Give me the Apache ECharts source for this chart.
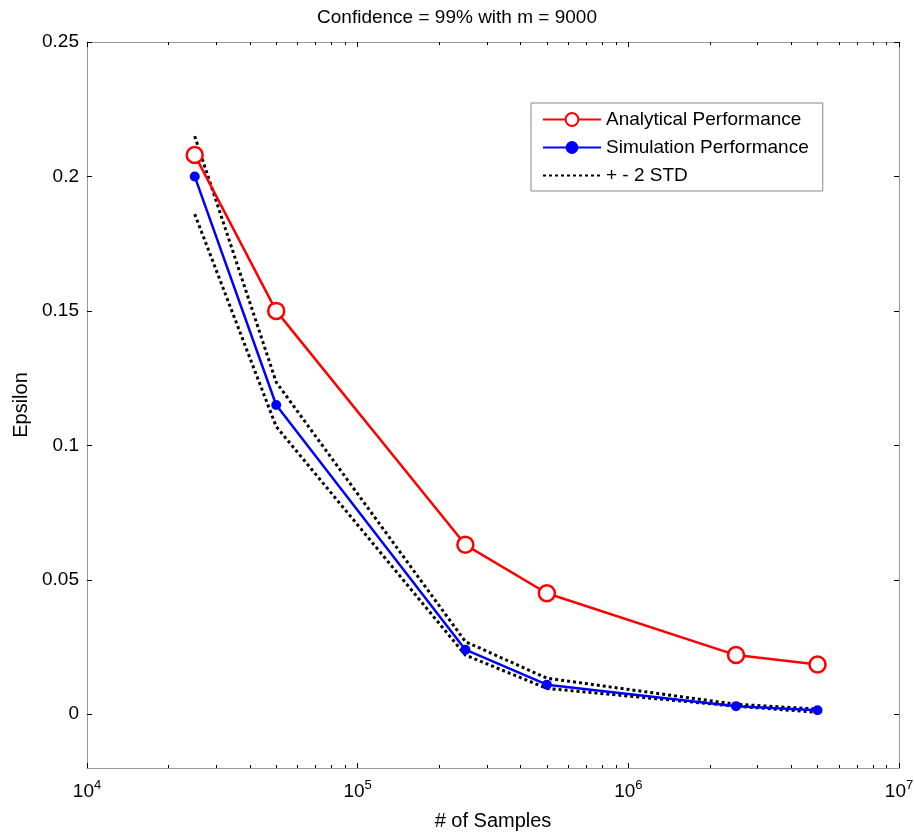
<!DOCTYPE html>
<html><head><meta charset="utf-8">
<script src="https://cdn.jsdelivr.net/npm/echarts@6/dist/echarts.min.js"></script>
<style>html,body{margin:0;padding:0;background:#fff}#c{width:914px;height:836px}</style>
</head><body><div id="c"></div>
<script>
const samples = [25000, 50000, 250000, 500000, 2500000, 5000000];
const analytical = [0.208, 0.150, 0.063, 0.045, 0.022, 0.0185];
const simulation = [0.200, 0.115, 0.024, 0.011, 0.003, 0.0015];
const upperStd = [0.215, 0.1235, 0.027, 0.0134, 0.0037, 0.0019];
const lowerStd = [0.186, 0.107, 0.022, 0.0096, 0.003, 0.0007];
const xTicks = [10000, 100000, 1000000, 10000000];
const yTicks = [0, 0.05, 0.1, 0.15, 0.2, 0.25];

const pair = arr => samples.map((s, i) => [s, arr[i]]);
const font = 'Liberation Sans, Arial, sans-serif';
const chart = echarts.init(document.getElementById('c'), null, {renderer: 'canvas'});
const axisLine = {show: true, onZero: false, lineStyle: {color: '#999', width: 1}};
const tickStyle = {show: true, inside: true, length: 5, lineStyle: {color: '#000'}};
const minor = {show: true, splitNumber: 9, length: 3, lineStyle: {color: '#000'}};
chart.setOption({
  animation: false,
  backgroundColor: '#fff',
  title: {text: 'Confidence = 99% with m = 9000', left: 'center', top: 3,
    textStyle: {fontFamily: font, fontSize: 19, fontWeight: 'normal', color: '#000'}},
  grid: {left: 87, right: 15, top: 42, bottom: 68, outerBoundsMode: 'none', containLabel: false},
  legend: {
    orient: 'vertical', left: 531, top: 103, padding: [7, 14, 6, 11],
    borderColor: '#888', borderWidth: 1, itemWidth: 58, itemHeight: 16, itemGap: 9,
    textStyle: {fontFamily: font, fontSize: 19, color: '#000'},
    data: ['Analytical Performance', 'Simulation Performance',
      {name: '+ - 2 STD', itemStyle: {opacity: 0}}]
  },
  xAxis: [{
    type: 'log', logBase: 10, min: 10000, max: 10000000,
    name: '# of Samples', nameLocation: 'middle', nameGap: 43,
    nameTextStyle: {fontFamily: font, fontSize: 20, color: '#000'},
    axisLine: axisLine, axisTick: tickStyle, minorTick: minor,
    splitLine: {show: false},
    axisLabel: {fontFamily: font, fontSize: 19, color: '#000', margin: 11,
      formatter: v => xTicks.includes(v) ? '10{s|' + Math.round(Math.log10(v)) + '}' : '',
      rich: {s: {fontSize: 13, verticalAlign: 'top', padding: [0, 0, 12, 0], fontFamily: font, color: '#000'}}}
  }, {
    type: 'log', logBase: 10, min: 10000, max: 10000000, position: 'top',
    axisLine: axisLine, axisTick: tickStyle, minorTick: minor,
    axisLabel: {show: false}, splitLine: {show: false}
  }],
  yAxis: [{
    type: 'value', min: -0.02, max: 0.25, interval: 0.01,
    name: 'Epsilon', nameLocation: 'middle', nameGap: 46, nameRotate: 90,
    nameTextStyle: {fontFamily: font, fontSize: 20, color: '#000'},
    axisLine: axisLine, splitLine: {show: false},
    axisLabel: {fontFamily: font, fontSize: 19, color: '#000', margin: 8,
      customValues: yTicks, formatter: v => String(+v.toFixed(2))},
    axisTick: Object.assign({}, tickStyle, {customValues: yTicks})
  }, {
    type: 'value', min: -0.02, max: 0.25, interval: 0.01, position: 'right',
    axisLine: axisLine, axisTick: Object.assign({}, tickStyle, {customValues: yTicks}),
    axisLabel: {show: false, customValues: yTicks}, splitLine: {show: false}
  }],
  series: [
    {name: 'Analytical Performance', type: 'line', data: pair(analytical),
      symbol: 'circle', symbolSize: 16, showAllSymbol: true,
      lineStyle: {color: '#ff0000', width: 2.5},
      itemStyle: {color: '#fff', borderColor: '#ff0000', borderWidth: 2.5}, z: 3},
    {name: 'Simulation Performance', type: 'line', data: pair(simulation),
      symbol: 'circle', symbolSize: 10,
      lineStyle: {color: '#0000ff', width: 2.5},
      itemStyle: {color: '#0000ff'}, z: 4},
    {name: '+ - 2 STD', type: 'line', data: pair(upperStd), symbol: 'none',
      lineStyle: {color: '#000', width: 3, type: [3, 3]}, itemStyle: {color: '#000'}, z: 2},
    {name: '+ - 2 STD', type: 'line', data: pair(lowerStd), symbol: 'none',
      lineStyle: {color: '#000', width: 3, type: [3, 3]}, itemStyle: {color: '#000'}, z: 2}
  ]
});
</script></body></html>
